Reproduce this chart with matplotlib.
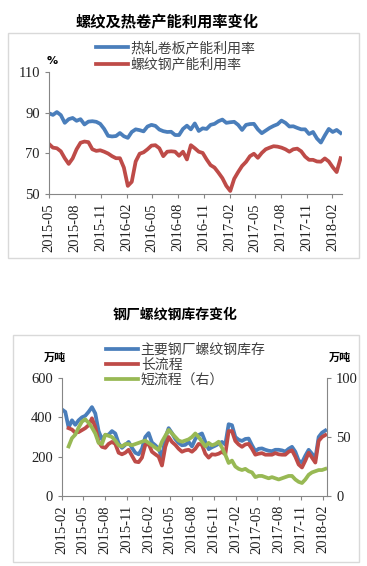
import matplotlib
matplotlib.use("Agg")
import matplotlib.pyplot as plt
import pandas as pd
import numpy as np
from matplotlib.patches import Rectangle
from matplotlib.lines import Line2D

W, H = 367, 566

# capacity utilisation (%), every two weeks from 2015-05
hr_rate = [89.7, 88.9, 90.3, 88.8, 85.0, 86.8, 87.4, 86.0, 86.8, 84.2,
           85.6, 85.8, 85.5, 84.5, 82.0, 78.6, 78.3, 78.5, 80.0, 78.4,
           77.6, 80.5, 81.8, 81.4, 80.8, 83.2, 84.0, 83.5, 81.7, 80.9,
           80.5, 80.6, 79.0, 79.0, 82.0, 83.6, 81.8, 84.7, 81.0, 82.3,
           82.0, 84.0, 84.5, 85.8, 86.6, 85.0, 85.3, 85.5, 84.0, 81.5,
           84.0, 84.4, 84.5, 81.8, 79.9, 81.2, 82.5, 83.5, 84.3, 86.1,
           85.0, 83.2, 83.3, 82.5, 81.8, 81.8, 79.5, 80.5, 77.3, 75.3,
           78.8, 82.0, 80.5, 81.5, 80.0]
rebar_rate = [74.6, 72.8, 72.5, 71.0, 67.6, 64.8, 67.5, 72.0, 75.2, 75.8,
              75.5, 72.0, 71.2, 71.5, 70.8, 69.9, 68.6, 67.6, 67.6, 63.0,
              54.0, 56.0, 66.0, 69.8, 70.5, 72.0, 73.8, 74.0, 72.5, 68.6,
              70.8, 71.0, 70.8, 68.8, 70.8, 67.0, 74.0, 72.5, 70.8, 70.2,
              67.0, 64.2, 63.0, 60.5, 57.8, 54.0, 51.5, 57.5, 60.8, 63.8,
              65.8, 68.6, 69.8, 67.8, 70.2, 72.0, 72.8, 73.5, 73.3, 72.8,
              72.0, 70.8, 72.0, 72.3, 71.0, 68.4, 66.8, 66.8, 66.0, 65.9,
              67.5, 66.0, 63.2, 60.8, 67.6]
rate_dates = pd.date_range("2015-05-01", periods=len(hr_rate), freq="14D")
rate_ticks = pd.date_range("2015-05-01", "2018-02-01", freq="3MS")

# rebar stocks (10k t), every two weeks from 2015-02
total_stock = [440, 428, 348, 385, 362, 385, 400, 408, 428, 452,
               420, 330, 288, 310, 312, 330, 318, 268, 245, 260,
               275, 245, 220, 212, 240, 300, 320, 272, 258, 240,
               195, 295, 345, 320, 290, 270, 258, 260, 275, 252,
               290, 310, 318, 275, 238, 248, 256, 265, 275, 262,
               365, 360, 300, 286, 280, 290, 292, 258, 228, 240,
               242, 235, 230, 228, 235, 235, 232, 226, 240, 250,
               225, 180, 170, 205, 235, 215, 190, 300, 322, 333]
long_stock = [np.nan, np.nan, 345, 338, 322, 325, 335, 345, 360, 395,
              350, 275, 250, 245, 265, 275, 265, 220, 212, 220,
              235, 205, 175, 172, 195, 260, 265, 225, 212, 200,
              155, 250, 300, 275, 260, 240, 225, 232, 235, 225,
              240, 265, 260, 215, 195, 212, 210, 215, 225, 212,
              330, 330, 280, 262, 250, 262, 265, 240, 210, 215,
              218, 210, 210, 210, 218, 212, 210, 210, 225, 232,
              200, 160, 145, 180, 220, 195, 170, 280, 300, 310]
short_stock = [np.nan, np.nan, 42, 49, 52, 58, 63, 65, 62, 58,
               53, 45, 44, 52, 51, 50, 47, 43, 42, 44,
               44, 43, 44, 45, 46, 47, 45, 43, 41, 39,
               46, 51, 56, 53, 50, 47, 46, 47, 48, 50,
               53, 50, 46, 42, 45, 43, 44, 46, 41, 35,
               28, 30, 25, 23, 22, 23, 21, 20, 16, 17,
               17, 16, 15, 16, 15, 14, 15, 16, 17, 17,
               14, 12, 11, 14, 18, 20, 21, 22, 22, 23]
stock_dates = pd.date_range("2015-02-02", periods=len(total_stock), freq="14D")
stock_ticks = pd.date_range("2015-02-01", "2018-02-01", freq="3MS")

BLUE = "#4a7ebb"
RED = "#be4b48"
GREEN = "#98b954"
CJK = ["Noto Sans CJK SC", "DejaVu Sans"]
NUM = "Liberation Serif"
LW = 2.7


def rect(x0, y0, x1, y1):
    return [x0 / W, 1 - y1 / H, (x1 - x0) / W, (y1 - y0) / H]


def frame(x0, y0, x1, y1):
    fig.patches.append(Rectangle((x0 / W, 1 - y1 / H), (x1 - x0) / W, (y1 - y0) / H,
                                 transform=fig.transFigure, fill=False,
                                 edgecolor="#d9d9d9", lw=1))


def style(ax, ticks, xlim):
    for s in ["top", "right"]:
        ax.spines[s].set_visible(False)
    for s in ["left", "bottom"]:
        ax.spines[s].set_color("#868686")
    ax.tick_params(colors="#868686", labelcolor="#222222", length=3, width=0.8)
    ax.set_xlim(*xlim)
    ax.set_xticks(ticks)
    ax.set_xticklabels([d.strftime("%Y-%m") for d in ticks], rotation=90,
                       fontfamily=NUM, fontsize=10.5)
    for lab in ax.get_yticklabels():
        lab.set_fontfamily(NUM)
        lab.set_fontsize(10.5)


fig = plt.figure(figsize=(W / 100, H / 100), dpi=100)

# ---- top chart
frame(8, 33, 359, 258)
fig.text(167 / W, 1 - 22 / H, "螺纹及热卷产能利用率变化", family=CJK, fontsize=11,
         fontweight="bold", ha="center", va="center")
ax = fig.add_axes(rect(49, 72, 342, 194))
ax.plot(rate_dates, hr_rate, color=BLUE, lw=LW)
ax.plot(rate_dates, rebar_rate, color=RED, lw=LW)
ax.set_ylim(50, 110)
ax.set_yticks([50, 70, 90, 110])
style(ax, rate_ticks, (pd.Timestamp("2015-05-01"), pd.Timestamp("2018-03-07")))
fig.text(52 / W, 1 - 61 / H, "%", fontsize=8, fontweight="bold", ha="center", va="center")
handles = [Line2D([], [], color=BLUE, lw=LW), Line2D([], [], color=RED, lw=LW)]
fig.legend(handles, ["热轧卷板产能利用率", "螺纹钢产能利用率"], loc="upper left",
           bbox_to_anchor=(96 / W, 1 - 41 / H), frameon=False, borderpad=0,
           borderaxespad=0, handlelength=2.3, handletextpad=0.2, labelspacing=0.2,
           prop={"family": CJK, "size": 10, "weight": "light"}, labelcolor="#404040")

# ---- bottom chart
frame(13, 335, 359, 562)
fig.text(175 / W, 1 - 315 / H, "钢厂螺纹钢库存变化", family=CJK, fontsize=10,
         fontweight="bold", ha="center", va="center")
ax = fig.add_axes(rect(61.7, 378, 327, 496))
ax.plot(stock_dates, total_stock, color=BLUE, lw=LW)
ax.plot(stock_dates, long_stock, color=RED, lw=LW)
ax.set_ylim(0, 600)
ax.set_yticks([0, 200, 400, 600])
style(ax, stock_ticks, (pd.Timestamp("2015-02-01"), pd.Timestamp("2018-02-19")))
ax2 = ax.twinx()
ax2.plot(stock_dates, short_stock, color=GREEN, lw=LW)
ax2.set_ylim(0, 100)
ax2.set_yticks([0, 50, 100])
for s in ["top", "left", "bottom"]:
    ax2.spines[s].set_visible(False)
ax2.spines["right"].set_color("#868686")
ax2.tick_params(colors="#868686", labelcolor="#222222", length=3, width=0.8)
for lab in ax2.get_yticklabels():
    lab.set_fontfamily(NUM)
    lab.set_fontsize(10.5)
fig.text(55 / W, 1 - 357 / H, "万吨", family=CJK, fontsize=8, fontweight="bold",
         ha="center", va="center")
fig.text(340 / W, 1 - 357 / H, "万吨", family=CJK, fontsize=8, fontweight="bold",
         ha="center", va="center")
handles = [Line2D([], [], color=c, lw=LW) for c in (BLUE, RED, GREEN)]
fig.legend(handles, ["主要钢厂螺纹钢库存", "长流程", "短流程（右）"], loc="upper left",
           bbox_to_anchor=(106 / W, 1 - 343 / H), frameon=False, borderpad=0,
           borderaxespad=0, handlelength=2.3, handletextpad=0.2, labelspacing=0.08,
           prop={"family": CJK, "size": 10, "weight": "light"}, labelcolor="#404040")

fig.savefig("out.png", dpi=100)
